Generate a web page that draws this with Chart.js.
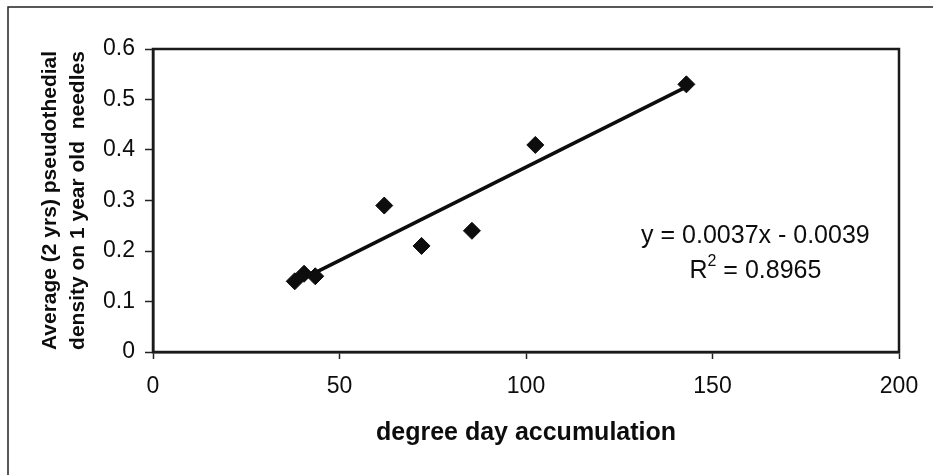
<!DOCTYPE html>
<html>
<head>
<meta charset="utf-8">
<script src="https://cdn.jsdelivr.net/npm/chart.js@4.4.0/dist/chart.umd.min.js"></script>
<style>
  html, body { margin: 0; padding: 0; background: #fff; }
</style>
</head>
<body>
<canvas id="myChart" width="933" height="475"></canvas>
<script>
// points (degree days, density)
const degreeDays = [38, 40.5, 43.5, 62, 72, 85.5, 102.5, 143];
const density = [0.14, 0.155, 0.15, 0.29, 0.21, 0.24, 0.41, 0.53];

// trend line ends
const trendX = [38, 143];
const trendY = [0.137, 0.525];

const xTicks = [0, 50, 100, 150, 200];
const yTicks = [0, 0.1, 0.2, 0.3, 0.4, 0.5, 0.6];

const eqLine = "y = 0.0037x - 0.0039";
const r2Value = "0.8965";

const ink = "#0d0d0d";
const fontFam = "'Liberation Sans', Arial, sans-serif";

// frame, plot box and equation text
const extras = {
  id: "extras",
  beforeDraw(chart) {
    const ctx = chart.ctx;
    ctx.save();
    ctx.fillStyle = "#fff";
    ctx.fillRect(0, 0, chart.width, chart.height);
    ctx.strokeStyle = "#222";
    ctx.lineWidth = 1.5;
    ctx.strokeRect(8, 7, 1000, 1000);
    ctx.restore();
  },
  beforeDatasetsDraw(chart) {
    const a = chart.chartArea;
    const ctx = chart.ctx;
    ctx.save();
    ctx.strokeStyle = "#1a1a1a";
    ctx.lineWidth = 2.5;
    ctx.strokeRect(a.left, a.top, a.right - a.left, a.bottom - a.top);
    ctx.restore();
  },
  afterDatasetsDraw(chart) {
    const ctx = chart.ctx;
    const xs = chart.scales.x, ys = chart.scales.y;
    const cx = xs.getPixelForValue(161.5);
    ctx.save();
    ctx.fillStyle = ink;
    ctx.textBaseline = "middle";
    ctx.font = "25px " + fontFam;
    ctx.textAlign = "center";
    ctx.fillText(eqLine, cx, ys.getPixelForValue(0.23));

    // R² line with a raised 2
    const y2 = ys.getPixelForValue(0.16);
    ctx.textAlign = "left";
    const wR = ctx.measureText("R").width;
    const rest = " = " + r2Value;
    const wRest = ctx.measureText(rest).width;
    ctx.font = "16px " + fontFam;
    const wSup = ctx.measureText("2").width;
    let x = cx - (wR + wSup + wRest) / 2;
    ctx.font = "25px " + fontFam;
    ctx.fillText("R", x, y2);
    ctx.font = "16px " + fontFam;
    ctx.fillText("2", x + wR, y2 - 10);
    ctx.font = "25px " + fontFam;
    ctx.fillText(rest, x + wR + wSup, y2);
    ctx.restore();
  }
};

const ctx = document.getElementById("myChart").getContext("2d");
new Chart(ctx, {
  type: "scatter",
  data: {
    datasets: [
      {
        label: "density",
        data: degreeDays.map((d, i) => ({ x: d, y: density[i] })),
        pointStyle: "rectRot",
        pointRadius: 8.5,
        pointBackgroundColor: ink,
        pointBorderColor: ink,
        pointBorderWidth: 1,
        order: 0
      },
      {
        label: "trend",
        type: "line",
        data: trendX.map((d, i) => ({ x: d, y: trendY[i] })),
        borderColor: ink,
        borderWidth: 3.5,
        pointRadius: 0,
        fill: false,
        showLine: true,
        order: 1
      }
    ]
  },
  options: {
    responsive: false,
    devicePixelRatio: 1,
    animation: false,
    layout: { padding: { left: 0, right: 34, top: 49, bottom: 0 } },
    plugins: {
      legend: { display: false },
      tooltip: { enabled: false }
    },
    scales: {
      x: {
        type: "linear",
        min: 0,
        max: 200,
        afterBuildTicks: s => { s.ticks = xTicks.map(v => ({ value: v })); },
        afterFit: s => { s.height = 123; },
        grid: { drawOnChartArea: false, drawTicks: true, tickLength: 7, tickColor: "#222", tickWidth: 1.5 },
        border: { display: true, color: "#1a1a1a", width: 2.5 },
        ticks: { color: ink, font: { family: fontFam, size: 23 }, padding: 14, maxRotation: 0 },
        title: {
          display: true,
          text: "degree day accumulation",
          color: ink,
          font: { family: fontFam, size: 25, weight: "bold" },
          padding: { top: 0, bottom: 27 }
        }
      },
      y: {
        min: 0,
        max: 0.6,
        afterBuildTicks: s => { s.ticks = yTicks.map(v => ({ value: v })); },
        afterFit: s => { s.width = 153; },
        grid: { drawOnChartArea: false, drawTicks: true, tickLength: 8, tickColor: "#222", tickWidth: 1.5 },
        border: { display: true, color: "#1a1a1a", width: 2.5 },
        ticks: {
          color: ink,
          font: { family: fontFam, size: 23 },
          padding: 10,
          callback: v => (v === 0 ? "0" : v.toFixed(1))
        },
        title: {
          display: true,
          text: ["Average (2 yrs) pseudothedial", "density on 1 year old  needles"],
          color: ink,
          font: { family: fontFam, size: 21, weight: "bold", lineHeight: 1.33 },
          padding: { top: 36, bottom: 0 }
        }
      }
    }
  },
  plugins: [extras]
});
</script>
</body>
</html>
